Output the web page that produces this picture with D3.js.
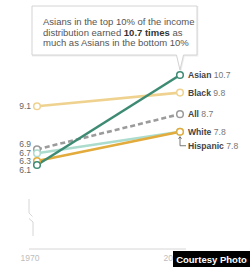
<!DOCTYPE html>
<html>
<head>
<meta charset="utf-8">
<script src="https://cdn.jsdelivr.net/npm/d3@7"></script>
<style>
  body { margin: 0; background: #fff; }
  svg { display: block; font-family: "Liberation Sans", Arial, sans-serif; }
</style>
</head>
<body>
<div class="chart"></div>
<script>
// data
const years = [1970, 2016];
const groups = ["Black", "All", "Hispanic", "White", "Asian"];
const start = [9.1, 6.9, 6.7, 6.3, 6.1];
const end = [9.8, 8.7, 7.8, 7.8, 10.7];
const colors = ["#efd28f", "#9b9b9b", "#abdccd", "#e2ab3c", "#3e8b74"];
const noteLines = [
  ["Asians in the top 10% of the income"],
  ["distribution earned ", "10.7 times", " as"],
  ["much as Asians in the bottom 10%"]
];

const WIDTH = 250, HEIGHT = 267;

let svg = d3.select(".chart").append("svg")
  .attr("width", WIDTH)
  .attr("height", HEIGHT);

const x = d3.scalePoint().domain(years).range([37, 180]);
const y = d3.scaleLinear().domain([6.1, 10.7]).range([165, 75]);

let rows = groups.map((g, i) => ({name: g, a: start[i], b: end[i], color: colors[i]}));

// axis pieces: baseline with broken y axis
svg.append("line")
  .attr("x1", 29).attr("x2", 186)
  .attr("y1", 249).attr("y2", 249)
  .attr("stroke", "#d6d6d6").attr("stroke-width", 1);

svg.append("path")
  .attr("d", "M29,199V213L32.5,216.5M29,218.5L33,222V236")
  .attr("fill", "none").attr("stroke", "#d6d6d6").attr("stroke-width", 1);

svg.selectAll(".year")
  .data(years)
  .enter().append("text")
  .attr("class", "year")
  .attr("x", d => x(d) - 7)
  .attr("y", 261)
  .attr("text-anchor", "middle")
  .attr("font-size", 8.5)
  .attr("fill", "#bdbdbd")
  .text(d => d);

// slope lines, Asian on top
svg.selectAll(".slope")
  .data(rows)
  .enter().append("line")
  .attr("class", "slope")
  .attr("x1", x(years[0])).attr("x2", x(years[1]))
  .attr("y1", d => y(d.a)).attr("y2", d => y(d.b))
  .attr("stroke", d => d.color)
  .attr("stroke-width", 2.6)
  .attr("stroke-dasharray", d => d.name == "All" ? "5,3" : null);

// end circles
rows.forEach(function(d) {
  [d.a, d.b].forEach(function(v, k) {
    svg.append("circle")
      .attr("cx", x(years[k])).attr("cy", y(v))
      .attr("r", 3.3)
      .attr("fill", "#fff")
      .attr("stroke", d.color)
      .attr("stroke-width", 1.5);
  });
});

// left labels, spread apart so they don't collide
let left = rows.map(d => ({v: d.a, y: y(d.a)})).sort((p, q) => p.y - q.y);
for (let it = 0; it < 60; it++) {
  for (let i = 1; i < left.length; i++) {
    let diff = left[i].y - left[i - 1].y;
    if (diff < 8.5) {
      let o = (8.5 - diff) / 2;
      left[i - 1].y -= o;
      left[i].y += o;
    }
  }
}
svg.selectAll(".lval")
  .data(left)
  .enter().append("text")
  .attr("class", "lval")
  .attr("x", 31)
  .attr("y", d => d.y)
  .attr("dy", "0.35em")
  .attr("text-anchor", "end")
  .attr("font-size", 8.5)
  .attr("fill", "#666")
  .text(d => d.v.toFixed(1));

// right labels; a tie gets pushed below with a leader
let right = rows.map(d => ({name: d.name, v: d.b, y: y(d.b)}))
  .sort((p, q) => p.y - q.y || (p.name == "White" ? -1 : 1));
for (let i = 1; i < right.length; i++) {
  if (right[i].y - right[i - 1].y < 10) {
    right[i].y = right[i - 1].y + 14;
    right[i].leader = true;
  }
}
right.forEach(function(d) {
  let t = svg.append("text")
    .attr("x", 188)
    .attr("y", d.y)
    .attr("dy", "0.35em")
    .attr("font-size", 8.6);
  t.append("tspan").attr("font-weight", "bold").attr("fill", "#444").text(d.name);
  t.append("tspan").attr("fill", "#777").text(" " + d.v.toFixed(1));
  if (d.leader) {
    let x0 = x(years[1]), y0 = y(d.v) + 5;
    svg.append("path")
      .attr("d", "M" + x0 + "," + y0 + "V" + d.y + "H186")
      .attr("fill", "none").attr("stroke", "#555").attr("stroke-width", 0.8);
    svg.append("path")
      .attr("d", "M" + (x0 - 1.5) + "," + (y0 + 2) + "L" + x0 + "," + y0 + "L" + (x0 + 1.5) + "," + (y0 + 2))
      .attr("fill", "none").attr("stroke", "#555").attr("stroke-width", 0.8);
  }
});

// callout box pointing at Asian 2016
let bx0 = 32, bx1 = 197, by0 = 6, by1 = 55;
let px = x(years[1]), py = y(end[4]) - 5;
let box = "M" + bx0 + "," + by0 + "H" + bx1 + "V" + by1 +
  "H" + (px + 3.5) + "L" + px + "," + py + "L" + (px - 3.5) + "," + by1 +
  "H" + bx0 + "Z";
svg.append("path").attr("d", box)
  .attr("transform", "translate(0.6,0.8)")
  .attr("fill", "#eee").attr("stroke", "#eee").attr("stroke-width", 1.5);
svg.append("path").attr("d", box)
  .attr("fill", "#fff").attr("stroke", "#cfcfcf").attr("stroke-width", 0.9);

noteLines.forEach(function(parts, i) {
  let t = svg.append("text")
    .attr("x", 43)
    .attr("y", 25 + i * 10.5)
    .attr("font-size", 9.5)
    .attr("fill", "#555");
  parts.forEach(function(p, j) {
    t.append("tspan")
      .attr("font-weight", j == 1 ? "bold" : null)
      .attr("fill", j == 1 ? "#333" : null)
      .text(p);
  });
});

// photo credit badge
svg.append("rect")
  .attr("x", 173).attr("y", 251)
  .attr("width", 77).attr("height", 16)
  .attr("fill", "#000");
svg.append("text")
  .attr("x", 211.5).attr("y", 262.5)
  .attr("text-anchor", "middle")
  .attr("font-size", 9.5)
  .attr("font-weight", "bold")
  .attr("fill", "#fff")
  .text("Courtesy Photo");
</script>
</body>
</html>
